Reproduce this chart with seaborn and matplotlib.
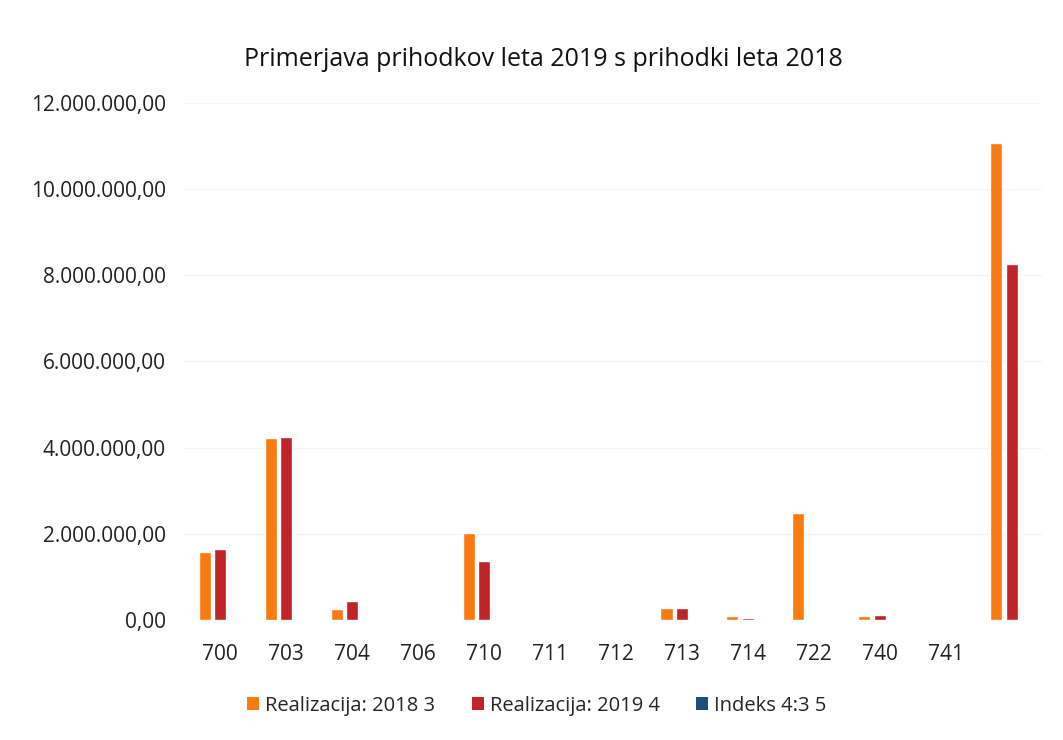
import matplotlib
matplotlib.use("Agg")
import matplotlib.pyplot as plt
from matplotlib.patches import Patch
from matplotlib.ticker import FuncFormatter
import pandas as pd
import seaborn as sns

# Konti prihodkov (zadnja skupina je skupaj, brez oznake na osi)
categories = ["700", "703", "704", "706", "710", "711", "712",
              "713", "714", "722", "740", "741", "Skupaj"]
tick_labels = ["700", "703", "704", "706", "710", "711", "712",
               "713", "714", "722", "740", "741", ""]

real_2018 = [1580000, 4220000, 260000, 0, 2010000, 0, 0,
             270000, 90000, 2490000, 100000, 0, 11070000]
real_2019 = [1660000, 4250000, 440000, 0, 1370000, 0, 0,
             290000, 60000, 0, 130000, 0, 8260000]
indeks = [105, 101, 169, 0, 68, 0, 0, 107, 67, 0, 130, 0, 75]

series_names = ["Realizacija: 2018 3", "Realizacija: 2019 4", "Indeks 4:3 5"]
colors = ["#F97A10", "#BE2428", "#1F4E79"]

df = pd.DataFrame({
    "konto": categories * 3,
    "vrednost": real_2018 + real_2019 + indeks,
    "serija": [series_names[0]] * len(categories)
              + [series_names[1]] * len(categories)
              + [series_names[2]] * len(categories),
})

sns.set_theme(style="white")
plt.rcParams["font.family"] = ["Open Sans", "DejaVu Sans"]

fig = plt.figure(figsize=(10.63, 7.4), dpi=100)
ax = fig.add_axes([0.1728, 0.162, 0.807, 0.699])

sns.barplot(data=df, x="konto", y="vrednost", hue="serija",
            order=categories, hue_order=series_names,
            palette=colors, width=0.7, gap=0.22, saturation=1,
            legend=False, ax=ax)

ax.set_ylim(0, 12000000)
ax.set_yticks(range(0, 12000001, 2000000))
ax.yaxis.set_major_formatter(FuncFormatter(
    lambda v, p: f"{v:,.2f}".replace(",", " ").replace(".", ",").replace(" ", ".")))
ax.set_xticks(range(len(categories)))
ax.set_xticklabels(tick_labels)
ax.set_xlim(-0.55, len(categories) - 0.55)
ax.tick_params(axis="x", labelsize=15, pad=17, colors="#222222", length=0)
ax.tick_params(axis="y", labelsize=15, pad=13, colors="#222222", length=0)
ax.grid(axis="y", color="#f5f5f5", linewidth=1)
ax.set_axisbelow(True)
sns.despine(ax=ax, left=True, bottom=True)
ax.set_xlabel("")
ax.set_ylabel("")

fig.text(0.511, 0.92, "Primerjava prihodkov leta 2019 s prihodki leta 2018",
         ha="center", va="center", fontsize=18, color="#111111")

handles = [Patch(facecolor=c, edgecolor="none") for c in colors]
fig.legend(handles, series_names, loc="center", bbox_to_anchor=(0.505, 0.046),
           ncol=3, frameon=False, fontsize=14.5, handlelength=0.6,
           handleheight=0.6, handletextpad=0.3, columnspacing=1.8)

fig.savefig("out.png", dpi=100)
plt.close(fig)
